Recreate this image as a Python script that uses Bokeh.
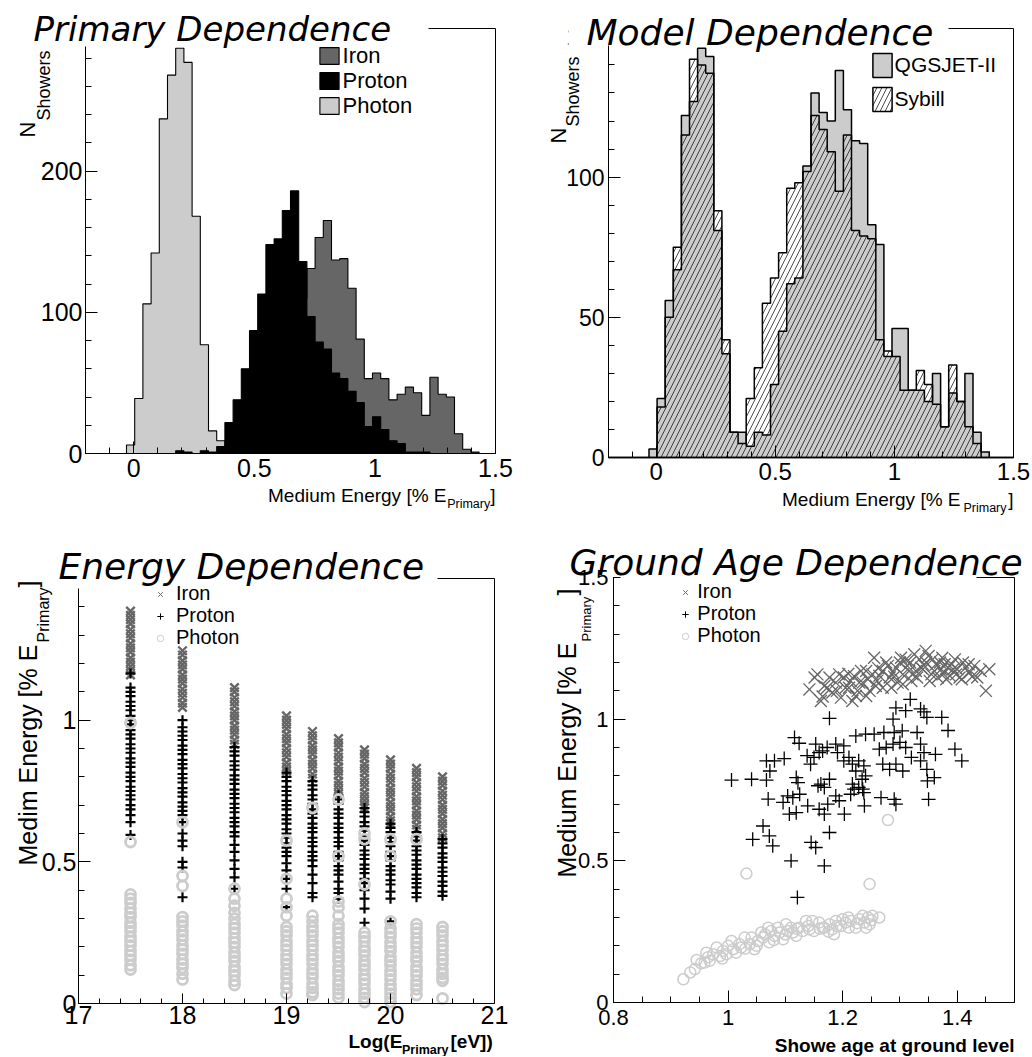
import numpy as np
from bokeh.plotting import figure
from bokeh.models import (Range1d, FixedTicker, Label, BoxAnnotation, Legend,
                          LegendItem, CustomJSTickFormatter)
from bokeh.layouts import gridplot
from bokeh.embed import file_html
from bokeh.resources import INLINE

# ---------------- data ----------------
HIST_RANGE = (-0.2, 1.5)
N_BINS = 50

# Primary dependence (counts per bin)
IRON_COUNTS = [0, 0, 0, 0, 0, 0, 0, 0, 0, 0, 0, 0, 0, 0, 0, 0, 0, 0, 1, 2,
               4, 8, 15, 30, 55, 85, 110, 131, 153, 165, 137, 138, 117, 81, 53,
               57, 53, 38, 42, 47, 43, 27, 54, 42, 40, 14, 3, 1, 0, 0]
PROTON_COUNTS = [0, 0, 0, 0, 0, 0, 0, 0, 0, 0, 0, 2, 1, 0, 2, 1, 5, 22, 38, 60,
                 87, 113, 148, 152, 172, 186, 136, 97, 79, 74, 57, 53, 44, 36, 19,
                 26, 17, 9, 7, 1, 1, 1, 0, 0, 0, 0, 0, 0, 0, 0]
PHOTON_COUNTS = [0, 0, 0, 0, 0, 6, 39, 106, 142, 237, 268, 287, 277, 168, 77,
                 16, 9, 3, 1, 0, 0, 0, 0, 0, 0, 0, 0, 0, 0, 0, 0, 0, 0, 0, 0,
                 0, 0, 0, 0, 0, 0, 0, 0, 0, 0, 0, 0, 0, 0, 0]

# Model dependence (counts per bin)
QGSJET_COUNTS = [0, 0, 0, 0, 0, 3, 21, 56, 67, 122, 127, 146, 143, 81, 37,
                 9, 9, 4, 9, 8, 26, 45, 62, 64, 104, 130, 123, 120, 138, 124,
                 113, 112, 83, 76, 36, 46, 46, 24, 24, 20, 30, 11, 23, 20, 30,
                 9, 2, 0, 0, 0]
SYBILL_COUNTS = [0, 0, 0, 0, 0, 0, 18, 50, 75, 115, 142, 140, 137, 88, 42,
                 9, 5, 21, 32, 55, 64, 73, 96, 98, 102, 122, 117, 109, 95, 115,
                 81, 79, 78, 42, 38, 36, 24, 24, 31, 26, 19, 11, 33, 20, 11,
                 5, 0, 0, 0, 0]

# Energy dependence: medium energy values at each log10(E)
LOG_E = [17.5, 18.0, 18.5, 19.0, 19.25, 19.5, 19.75, 20.0, 20.25, 20.5]
IRON_BY_E = [
    [1.385, 1.37, 1.355, 1.34, 1.32, 1.305, 1.29, 1.27, 1.255, 1.24, 1.22, 1.205, 1.19, 1.175, 1.16],
    [1.245, 1.23, 1.21, 1.195, 1.18, 1.16, 1.145, 1.13, 1.11, 1.095, 1.08, 1.06, 1.045],
    [1.115, 1.10, 1.08, 1.065, 1.05, 1.03, 1.015, 1.0, 0.98, 0.965, 0.95, 0.93, 0.915],
    [1.015, 1.0, 0.985, 0.97, 0.95, 0.935, 0.92, 0.90, 0.885, 0.87, 0.85, 0.835, 0.82],
    [0.96, 0.945, 0.93, 0.91, 0.895, 0.88, 0.86, 0.845, 0.83, 0.81, 0.795],
    [0.935, 0.92, 0.905, 0.885, 0.87, 0.855, 0.835, 0.82, 0.805, 0.785, 0.77, 0.755, 0.74],
    [0.895, 0.88, 0.865, 0.845, 0.83, 0.815, 0.795, 0.78, 0.765, 0.745, 0.73, 0.715, 0.70, 0.69],
    [0.86, 0.845, 0.83, 0.81, 0.795, 0.78, 0.76, 0.745, 0.73, 0.71, 0.695, 0.68, 0.66, 0.645, 0.635],
    [0.83, 0.815, 0.80, 0.78, 0.765, 0.75, 0.73, 0.715, 0.70, 0.68, 0.665, 0.65, 0.63, 0.615],
    [0.80, 0.785, 0.77, 0.75, 0.735, 0.72, 0.70, 0.685, 0.67, 0.65, 0.635, 0.62, 0.60, 0.585],
]
PROTON_BY_E = [
    [1.165, 1.115, 1.10, 1.085, 1.065, 1.05, 1.035, 1.015, 1.0, 0.985, 0.965, 0.95, 0.935, 0.915, 0.9,
     0.885, 0.865, 0.85, 0.835, 0.815, 0.80, 0.785, 0.765, 0.75, 0.735, 0.72, 0.70, 0.685, 0.665, 0.64, 0.595],
    [1.0, 0.975, 0.96, 0.945, 0.93, 0.91, 0.895, 0.88, 0.86, 0.845, 0.83, 0.81, 0.795, 0.78, 0.76,
     0.745, 0.73, 0.71, 0.695, 0.68, 0.665, 0.64, 0.60, 0.575, 0.555, 0.50, 0.48, 0.375],
    [0.905, 0.89, 0.875, 0.855, 0.84, 0.825, 0.805, 0.79, 0.775, 0.755, 0.74, 0.725, 0.705, 0.69, 0.675,
     0.655, 0.64, 0.625, 0.605, 0.59, 0.56, 0.535, 0.505, 0.475, 0.445, 0.405],
    [0.815, 0.80, 0.785, 0.765, 0.75, 0.735, 0.715, 0.70, 0.685, 0.665, 0.65, 0.635, 0.615, 0.60, 0.585,
     0.565, 0.55, 0.535, 0.52, 0.495, 0.47, 0.44, 0.405, 0.34],
    [0.785, 0.77, 0.755, 0.735, 0.72, 0.705, 0.685, 0.67, 0.655, 0.635, 0.62, 0.605, 0.585, 0.57, 0.555,
     0.535, 0.52, 0.505, 0.485, 0.455, 0.425, 0.39, 0.375],
    [0.735, 0.72, 0.705, 0.685, 0.67, 0.655, 0.635, 0.62, 0.605, 0.585, 0.57, 0.555, 0.535, 0.52, 0.505,
     0.485, 0.47, 0.455, 0.43, 0.405, 0.39, 0.37],
    [0.69, 0.675, 0.66, 0.64, 0.625, 0.61, 0.59, 0.575, 0.56, 0.54, 0.525, 0.51, 0.49, 0.475, 0.46,
     0.44, 0.425, 0.40, 0.37, 0.335, 0.285],
    [0.635, 0.62, 0.605, 0.585, 0.57, 0.555, 0.535, 0.52, 0.505, 0.485, 0.47, 0.455, 0.435, 0.42, 0.395,
     0.37, 0.29],
    [0.605, 0.59, 0.575, 0.555, 0.54, 0.525, 0.505, 0.49, 0.475, 0.455, 0.44, 0.425, 0.41, 0.39, 0.375],
    [0.58, 0.565, 0.55, 0.53, 0.515, 0.50, 0.48, 0.465, 0.45, 0.43, 0.415, 0.395, 0.38],
]
PHOTON_BY_E = [
    [0.99, 0.57, 0.385, 0.37, 0.355, 0.335, 0.32, 0.305, 0.285, 0.27, 0.255, 0.235, 0.22, 0.205, 0.185,
     0.17, 0.155, 0.135, 0.12],
    [0.64, 0.45, 0.415, 0.305, 0.29, 0.275, 0.255, 0.24, 0.225, 0.205, 0.19, 0.175, 0.155, 0.14, 0.125,
     0.105, 0.085],
    [0.405, 0.37, 0.345, 0.32, 0.30, 0.28, 0.265, 0.25, 0.23, 0.215, 0.20, 0.18, 0.165, 0.15, 0.13,
     0.115, 0.10, 0.08, 0.065],
    [0.575, 0.44, 0.37, 0.34, 0.31, 0.27, 0.255, 0.24, 0.22, 0.205, 0.19, 0.17, 0.155, 0.14, 0.12,
     0.105, 0.09, 0.07, 0.055, 0.035],
    [0.69, 0.31, 0.29, 0.27, 0.255, 0.24, 0.22, 0.205, 0.19, 0.17, 0.155, 0.14, 0.12, 0.105, 0.09,
     0.07, 0.055, 0.04, 0.03],
    [0.72, 0.52, 0.36, 0.34, 0.31, 0.28, 0.265, 0.25, 0.23, 0.215, 0.20, 0.18, 0.165, 0.15, 0.13,
     0.115, 0.10, 0.08, 0.065, 0.05, 0.035, 0.02],
    [0.60, 0.58, 0.42, 0.25, 0.235, 0.22, 0.20, 0.185, 0.17, 0.15, 0.135, 0.12, 0.10, 0.085, 0.07,
     0.05, 0.035, 0.02, 0.005],
    [0.58, 0.52, 0.29, 0.265, 0.25, 0.235, 0.215, 0.20, 0.185, 0.165, 0.15, 0.135, 0.115, 0.10, 0.085,
     0.065, 0.05, 0.035, 0.02, 0.005],
    [0.58, 0.28, 0.265, 0.25, 0.23, 0.215, 0.20, 0.18, 0.165, 0.15, 0.13, 0.115, 0.10, 0.08, 0.065,
     0.05, 0.03],
    [0.27, 0.255, 0.24, 0.22, 0.205, 0.19, 0.17, 0.155, 0.14, 0.12, 0.105, 0.09, 0.08, 0.018],
]

# Ground age dependence
IRON_AGE = [1.151, 1.142, 1.162, 1.173, 1.188, 1.202, 1.211, 1.223, 1.229, 1.241,
            1.255, 1.264, 1.247, 1.27, 1.282, 1.293, 1.302, 1.313, 1.32, 1.328,
            1.334, 1.346, 1.355, 1.363, 1.372, 1.381, 1.39, 1.398, 1.41, 1.421,
            1.43, 1.435, 1.45, 1.456, 1.387, 1.296, 1.27, 1.232, 1.214, 1.182,
            1.177, 1.197, 1.217, 1.241, 1.258, 1.285, 1.305, 1.337, 1.357, 1.325,
            1.345, 1.374, 1.415, 1.404, 1.366, 1.252, 1.205, 1.168, 1.156, 1.235,
            1.279, 1.316, 1.378, 1.393, 1.441, 1.305, 1.352, 1.194,
            1.21, 1.226, 1.244, 1.262, 1.276, 1.29, 1.31, 1.322, 1.34, 1.35,
            1.36, 1.37, 1.384, 1.396, 1.408, 1.42, 1.33, 1.3, 1.26, 1.22,
            1.19, 1.165, 1.288, 1.318, 1.342, 1.376, 1.4, 1.426]
IRON_ME = [1.147, 1.105, 1.064, 1.111, 1.129, 1.147, 1.111, 1.082, 1.129, 1.17,
           1.217, 1.153, 1.1, 1.111, 1.147, 1.182, 1.217, 1.188, 1.135, 1.17,
           1.211, 1.2, 1.158, 1.194, 1.176, 1.141, 1.194, 1.158, 1.2, 1.164,
           1.188, 1.147, 1.1, 1.176, 1.153, 1.129, 1.17, 1.17, 1.135, 1.094,
           1.147, 1.076, 1.064, 1.082, 1.117, 1.111, 1.158, 1.182, 1.211, 1.229,
           1.241, 1.217, 1.182, 1.147, 1.147, 1.158, 1.111, 1.117, 1.158, 1.129,
           1.188, 1.17, 1.194, 1.176, 1.17, 1.123, 1.135, 1.158,
           1.16, 1.1, 1.141, 1.18, 1.2, 1.15, 1.21, 1.158, 1.176, 1.223,
           1.17, 1.2, 1.182, 1.211, 1.141, 1.194, 1.147, 1.2, 1.135, 1.152,
           1.1, 1.08, 1.165, 1.2, 1.19, 1.16, 1.176, 1.15]
PROTON_AGE = [1.177, 1.318, 1.293, 1.288, 1.31, 1.336, 1.342, 1.347, 1.373, 1.384,
              1.116, 1.124, 1.223, 1.24, 1.255, 1.272, 1.29, 1.304, 1.33, 1.396,
              1.408, 1.362, 1.347, 1.36, 1.067, 1.081, 1.098, 1.073, 1.006, 1.041,
              1.067, 1.119, 1.122, 1.153, 1.165, 1.173, 1.188, 1.202, 1.138, 1.15,
              1.159, 1.144, 1.191, 1.202, 1.211, 1.217, 1.228, 1.237, 1.223, 1.234,
              1.24, 1.264, 1.276, 1.288, 1.3, 1.31, 1.32, 1.27, 1.282, 1.293,
              1.305, 1.336, 1.342, 1.336, 1.162, 1.177, 1.168, 1.22, 1.228, 1.237,
              1.267, 1.29, 1.35, 1.07, 1.096, 1.107, 1.119, 1.104, 1.113, 1.125,
              1.139, 1.157, 1.159, 1.168, 1.174, 1.188, 1.194, 1.203, 1.214, 1.217,
              1.235, 1.238, 1.293, 1.348, 1.061, 1.043, 1.072, 1.078, 1.177, 1.145,
              1.153, 1.11, 1.168, 1.121]
PROTON_ME = [1.003, 1.07, 1.04, 1.0, 1.03, 1.036, 1.026, 1.006, 1.006, 0.96,
             0.935, 0.915, 0.941, 0.947, 0.947, 0.953, 0.953, 0.959, 0.953, 0.894,
             0.853, 0.876, 0.823, 0.794, 0.853, 0.853, 0.861, 0.817, 0.785, 0.788,
             0.785, 0.794, 0.776, 0.912, 0.888, 0.9, 0.912, 0.906, 0.871, 0.865,
             0.882, 0.841, 0.882, 0.853, 0.865, 0.841, 0.853, 0.835, 0.817, 0.788,
             0.8, 0.894, 0.9, 0.912, 0.918, 0.9, 0.865, 0.841, 0.823, 0.841,
             0.817, 0.912, 0.882, 0.853, 0.771, 0.788, 0.759, 0.753, 0.759, 0.741,
             0.723, 0.717, 0.717, 0.718, 0.706, 0.665, 0.67, 0.729, 0.723, 0.735,
             0.694, 0.765, 0.682, 0.665, 0.7, 0.729, 0.712, 0.665, 0.735, 0.771,
             0.753, 0.694, 0.7, 0.782, 0.623, 0.576, 0.588, 0.553, 0.6, 0.565,
             0.547, 0.5, 0.482, 0.371]
PHOTON_AGE = [0.922, 0.934, 0.942, 0.959, 0.962, 0.974, 0.986, 0.997, 1.006, 1.014,
              1.023, 1.029, 1.038, 1.046, 1.052, 1.061, 1.07, 1.072, 1.081, 1.09,
              1.096, 1.104, 1.11, 1.119, 1.124, 1.136, 1.142, 1.15, 1.159, 1.168,
              1.177, 1.185, 1.188, 1.197, 1.205, 1.214, 1.223, 1.229, 1.238, 1.244,
              1.247, 1.264, 1.279, 1.032, 1.247, 0.953, 0.968, 0.98, 0.991, 1.009,
              1.02, 1.041, 1.058, 1.075, 1.087, 1.101, 1.113, 1.13, 1.147, 1.165,
              1.182, 1.2, 1.211, 1.235, 1.241, 1.252,
              0.945, 0.965, 0.99, 1.0, 1.03, 1.05, 1.065, 1.08, 1.1, 1.12,
              1.14, 1.16, 1.175, 1.19, 1.21, 1.225, 1.25]
PHOTON_ME = [0.082, 0.106, 0.118, 0.141, 0.176, 0.17, 0.164, 0.17, 0.217, 0.176,
             0.194, 0.229, 0.206, 0.188, 0.217, 0.229, 0.264, 0.212, 0.235, 0.247,
             0.223, 0.252, 0.264, 0.235, 0.264, 0.288, 0.258, 0.252, 0.282, 0.264,
             0.276, 0.241, 0.288, 0.27, 0.282, 0.288, 0.264, 0.294, 0.282, 0.3,
             0.276, 0.3, 0.644, 0.455, 0.418, 0.138, 0.147, 0.194, 0.182, 0.188,
             0.206, 0.229, 0.247, 0.252, 0.264, 0.276, 0.247, 0.252, 0.288, 0.264,
             0.258, 0.294, 0.264, 0.306, 0.264, 0.306,
             0.15, 0.16, 0.155, 0.2, 0.19, 0.2, 0.24, 0.22, 0.24, 0.26,
             0.27, 0.26, 0.25, 0.27, 0.3, 0.28, 0.29]

# ---------------- styling helpers ----------------
FONT = "Liberation Sans"
TFONT = "DejaVu Sans"
IRON_C = "#666666"
PHOTON_C = "#cccccc"
JS_FMT = "return tick.toString();"
NAN = float("nan")   # legend-key renderers carry no visible point


class Panel:
    """canvas / inner frame given in page pixels of the reference layout."""

    def __init__(self, canvas, inner, xr, yr):
        self.cx0, self.cx1, self.cy0, self.cy1 = canvas
        fx0, fx1, fy0, fy1 = inner
        x0, x1 = xr
        y0, y1 = yr
        sx = (fx1 - fx0) / (x1 - x0)
        sy = (fy1 - fy0) / (y1 - y0)
        ext_x = (x0 - (fx0 - self.cx0) / sx, x1 + (self.cx1 - fx1) / sx)
        ext_y = (y0 - (self.cy1 - fy1) / sy, y1 + (fy0 - self.cy0) / sy)
        p = figure(width=self.cx1 - self.cx0, height=self.cy1 - self.cy0,
                   x_range=Range1d(*ext_x), y_range=Range1d(*ext_y),
                   output_backend="svg", toolbar_location=None, tools="",
                   title_location=None,
                   min_border_left=0, min_border_right=0, min_border_top=0, min_border_bottom=0)
        p.xgrid.visible = False
        p.ygrid.visible = False
        p.outline_line_color = None
        p.background_fill_color = "white"
        p.border_fill_color = "white"
        p.xaxis[0].fixed_location = y0
        p.xaxis[0].bounds = (x0, x1)
        p.yaxis[0].fixed_location = x0
        p.yaxis[0].bounds = (y0, y1)
        # the plot frame (right / top edges visible)
        p.add_layout(BoxAnnotation(left=x0, right=x1, bottom=y0, top=y1, fill_color=None,
                                   fill_alpha=0.0, line_color="black", line_width=1,
                                   line_alpha=1.0, level="underlay"))
        self.p = p

    def text(self, X, Y, text, size, font=FONT, style="normal", align="left", angle=0.0,
             baseline="alphabetic"):
        self.p.add_layout(Label(x=X - self.cx0, y=self.cy1 - Y, x_units="screen", y_units="screen",
                                text=text, text_font=font, text_font_size=f"{size}px",
                                text_font_style=style, text_align=align, text_baseline=baseline,
                                angle=angle, text_color="black", level="overlay"))

    def white_box(self, X0, X1, Y0, Y1):
        self.p.add_layout(BoxAnnotation(left=X0 - self.cx0, right=X1 - self.cx0,
                                        top=self.cy1 - Y0, bottom=self.cy1 - Y1,
                                        left_units="screen", right_units="screen",
                                        top_units="screen", bottom_units="screen",
                                        fill_color="white", fill_alpha=1.0, line_color=None,
                                        level="overlay"))

    def legend_item(self, label, renderer, X1, Yc, gw, gh, size, standoff):
        H = max(gh, 1.117 * size)
        leg = Legend(items=[LegendItem(label=label, renderers=[renderer])],
                     location=(X1 - self.cx0, self.cy1 - (Yc + H / 2)),
                     glyph_width=gw, glyph_height=gh, label_height=gh, label_width=10,
                     label_standoff=standoff, padding=0, spacing=0, margin=0,
                     border_line_color=None, background_fill_alpha=0.0,
                     label_text_font=FONT, label_text_font_size=f"{size}px",
                     label_text_color="black")
        self.p.add_layout(leg, "center")


def style_axis(ax, ticks, minor, size, standoff, code=JS_FMT, major_len=12, minor_len=6):
    ax.ticker = FixedTicker(ticks=ticks, minor_ticks=minor)
    ax.formatter = CustomJSTickFormatter(code=code)
    ax.major_tick_in = major_len
    ax.major_tick_out = 0
    ax.minor_tick_in = minor_len
    ax.minor_tick_out = 0
    ax.axis_line_color = "black"
    ax.axis_line_width = 1
    ax.major_tick_line_color = "black"
    ax.minor_tick_line_color = "black"
    ax.major_label_text_font = FONT
    ax.major_label_text_font_size = f"{size}px"
    ax.major_label_text_color = "black"
    ax.major_label_standoff = standoff


def step_patch(edges, counts):
    xs, ys = [edges[0]], [0.0]
    for i, c in enumerate(counts):
        xs += [edges[i], edges[i + 1]]
        ys += [c, c]
    xs.append(edges[-1])
    ys.append(0.0)
    return xs, ys


def flatten(energies, groups):
    xs, ys = [], []
    for e, g in zip(energies, groups):
        xs += [e] * len(g)
        ys += list(g)
    return xs, ys


def legend_keys(p):
    """thin marker styles used only for the legend keys"""
    k_iron = p.scatter([NAN], [NAN], marker="x", size=8, line_color=IRON_C, line_width=1)
    k_proton = p.scatter([NAN], [NAN], marker="cross", size=8, line_color="black", line_width=1)
    k_photon = p.scatter([NAN], [NAN], marker="circle", size=8, fill_color=None,
                         line_color=PHOTON_C, line_width=1)
    return k_iron, k_proton, k_photon


edges = np.linspace(HIST_RANGE[0], HIST_RANGE[1], N_BINS + 1)
x_minor_hist = [round(v, 2) for v in np.arange(-0.1, 1.45, 0.1) if abs(v * 2 - round(v * 2)) > 1e-6]

# ---------------- Panel 1: Primary Dependence ----------------
P1 = Panel((0, 516, 0, 530), (85, 495, 28, 453), HIST_RANGE, (0, 301))
p1 = P1.p
style_axis(p1.xaxis[0], [0, 0.5, 1, 1.5], x_minor_hist, 25, 5)
style_axis(p1.yaxis[0], [0, 100, 200, 300], [v for v in range(20, 301, 20) if v % 100], 25, 3)
xs, ys = step_patch(edges, IRON_COUNTS)
r_iron = p1.patch(xs, ys, fill_color=IRON_C, line_color="black", line_width=1.1)
xs, ys = step_patch(edges, PHOTON_COUNTS)
r_photon = p1.patch(xs, ys, fill_color=PHOTON_C, line_color="black", line_width=1.1)
xs, ys = step_patch(edges, PROTON_COUNTS)
r_proton = p1.patch(xs, ys, fill_color="black", line_color="black", line_width=1.1)
P1.legend_item("Iron", r_iron, 316.6, 56.5, 24, 21, 22, 2)
P1.legend_item("Proton", r_proton, 316.6, 81.5, 24, 21, 22, 2)
P1.legend_item("Photon", r_photon, 316.6, 106.5, 24, 21, 22, 2)
P1.white_box(0, 428, 0, 46)
P1.text(33, 28, "Primary Dependence", 34, font=TFONT, style="italic")
P1.text(27, 137, "N", 22, angle=np.pi / 2)
P1.text(43, 120, "Showers", 18, angle=np.pi / 2)
P1.text(446, 495, "Medium Energy [% E", 19, align="right")
P1.text(489.7, 503, "Primary", 12.5, align="right")
P1.text(495, 495, "]", 19, align="right")

# ---------------- Panel 2: Model Dependence ----------------
P2 = Panel((516, 1031, 0, 530), (608, 1013, 28, 457), HIST_RANGE, (0, 153))
p2 = P2.p
style_axis(p2.xaxis[0], [0, 0.5, 1, 1.5], x_minor_hist, 24, 5)
style_axis(p2.yaxis[0], [0, 50, 100, 150], [v for v in range(10, 151, 10) if v % 50], 23, 4)
xs, ys = step_patch(edges, QGSJET_COUNTS)
r_q = p2.patch(xs, ys, fill_color=PHOTON_C, line_color="black", line_width=1.5)
xs, ys = step_patch(edges, SYBILL_COUNTS)
r_s = p2.patch(xs, ys, fill_color="white", fill_alpha=0.0, hatch_pattern="/",
               hatch_color="black", hatch_scale=10, hatch_weight=0.7,
               line_color="black", line_width=1.5)
P2.legend_item("QGSJET-II", r_q, 869.6, 65, 24, 30, 21, 1)
P2.legend_item("Sybill", r_s, 869.6, 98.5, 24, 30, 21, 1)
P2.white_box(568, 948, 0, 45)
P2.text(586, 32, "Model Dependence", 36, font=TFONT, style="italic")
P2.text(557.7, 143, "N", 22, angle=np.pi / 2)
P2.text(572, 126, "Showers", 18, angle=np.pi / 2)
P2.text(960, 499, "Medium Energy [% E", 19, align="right")
P2.text(1006, 507, "Primary", 12.5, align="right")
P2.text(1013, 499, "]", 19, align="right")

# ---------------- Panel 3: Energy Dependence ----------------
P3 = Panel((0, 516, 530, 1056), (78, 494, 578, 1003), (17, 21), (0, 1.5))
p3 = P3.p
style_axis(p3.xaxis[0], [17, 18, 19, 20, 21],
           [round(17 + 0.2 * i, 1) for i in range(1, 20) if i % 5], 25, 2, major_len=10, minor_len=5)
style_axis(p3.yaxis[0], [0, 0.5, 1],
           [round(0.1 * i, 1) for i in range(1, 15) if i % 5], 25, 2)
xi, yi = flatten(LOG_E, IRON_BY_E)
p3.scatter(xi, yi, marker="x", size=12, line_color=IRON_C, line_width=2.4)
xp, yp = flatten(LOG_E, PROTON_BY_E)
p3.scatter(xp, yp, marker="cross", size=10, line_color="black", line_width=2.2)
xg, yg = flatten(LOG_E, PHOTON_BY_E)
p3.scatter(xg, yg, marker="circle", size=10, fill_color=None, line_color=PHOTON_C, line_width=2.8)
k3_iron, k3_proton, k3_photon = legend_keys(p3)
P3.legend_item("Iron", k3_iron, 152, 594, 16, 22, 20, 8)
P3.legend_item("Proton", k3_proton, 152, 616, 16, 22, 20, 8)
P3.legend_item("Photon", k3_photon, 152, 638, 16, 22, 20, 8)
P3.white_box(43, 437, 530, 588)
P3.text(58, 566, "Energy Dependence", 36, font=TFONT, style="italic")
P3.text(27, 865, "Medim Energy [% E", 25, angle=np.pi / 2)
P3.text(43, 642, "Primary", 16, angle=np.pi / 2)
P3.text(27, 587, "]", 25, angle=np.pi / 2)
P3.text(348, 1041, "Log(E", 19, style="bold")
P3.text(401.5, 1049, "Primary", 12.5, style="bold")
P3.text(450, 1041, "[eV])", 19, style="bold")

# ---------------- Panel 4: Ground Age Dependence ----------------
P4 = Panel((516, 1031, 530, 1056), (613, 1014, 577, 1002), (0.8, 1.5), (0, 1.5))
p4 = P4.p
style_axis(p4.xaxis[0], [0.8, 1.0, 1.2, 1.4],
           [round(0.8 + 0.05 * i, 2) for i in range(1, 15) if i % 4], 22, 7)
style_axis(p4.yaxis[0], [0, 0.5, 1.0, 1.5],
           [round(0.1 * i, 1) for i in range(1, 15) if i % 5], 22, 5)
p4.scatter(IRON_AGE, IRON_ME, marker="x", size=17, line_color=IRON_C, line_width=1.3)
p4.scatter(PROTON_AGE, PROTON_ME, marker="cross", size=14, line_color="black", line_width=1.3)
p4.scatter(PHOTON_AGE, PHOTON_ME, marker="circle", size=11, fill_color=None,
           line_color=PHOTON_C, line_width=1.5)
k4_iron, k4_proton, k4_photon = legend_keys(p4)
P4.legend_item("Iron", k4_iron, 677.3, 592, 16, 22, 20, 4)
P4.legend_item("Proton", k4_proton, 677.3, 614, 16, 22, 20, 4)
P4.legend_item("Photon", k4_photon, 677.3, 636, 16, 22, 20, 4)
P4.white_box(620, 976, 530, 578)
P4.text(569, 562, "Ground Age Dependence", 36, font=TFONT, style="italic")
P4.text(566, 877, "Medium Energy [% E", 25, angle=np.pi / 2)
P4.text(586, 641, "Primary", 13, angle=np.pi / 2)
P4.text(566, 595, "]", 25, angle=np.pi / 2)
P4.text(1014, 1045, "Showe age at ground level", 19, style="bold", align="right")

grid = gridplot([[p1, p2], [p3, p4]], toolbar_location=None)

open("out.html", "w").write(file_html(grid, INLINE))
